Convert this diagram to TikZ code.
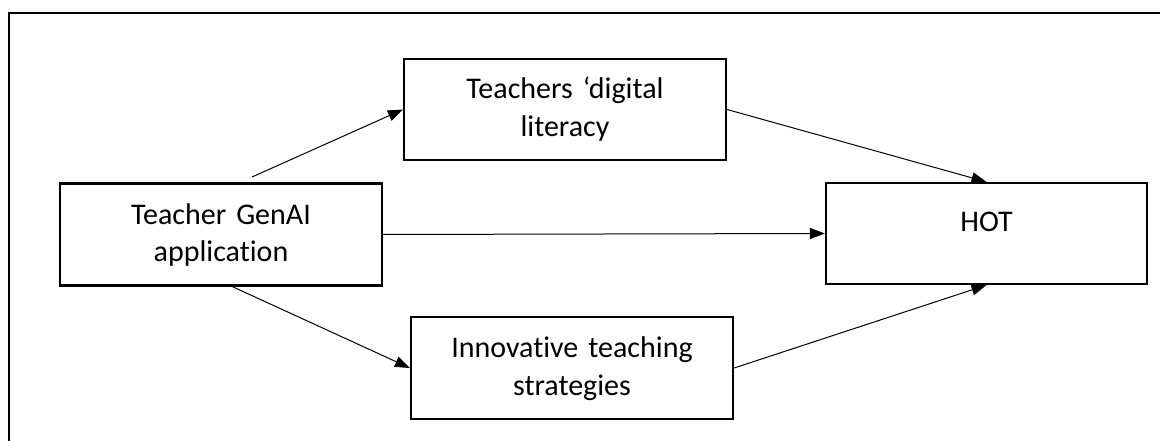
\documentclass[tikz,border=0pt]{standalone}
\usepackage{fontspec}
\setmainfont{Carlito}[RawFeature=-liga]
\usetikzlibrary{arrows.meta}
\begin{document}
\begin{tikzpicture}[x=1pt,y=-1pt,
  box/.style={draw, line width=2.2pt, inner sep=0pt, minimum width=322pt,
    minimum height=102pt, align=center, text width=320pt,
    font=\fontsize{30}{38}\selectfont, text height=19pt, text depth=40pt},
  onebox/.style={box, text depth=22pt},
  conn/.style={line width=1pt, -{Triangle[length=15pt,width=11pt]}}]
\useasboundingbox (0,0) rectangle (1160,441);
\draw[line width=2.2pt] (9,450) -- (9,13) -- (1170,13);
\node[box] (app) at (221,234.5) {Teacher GenAI\\application};
\node[box, minimum height=101pt] (dig) at (565,109.5) {Teachers ‘digital\\literacy};
\node[box] (inn) at (572,368) {Innovative teaching\\strategies};
\node[onebox, minimum width=321pt, minimum height=101pt] (hot) at (986.5,233.5) {HOT};
\coordinate (s1) at (252,177);
\coordinate (s2) at (231,286);
\draw[conn] (s1) -- (dig.west);
\draw[conn] (s2) -- (inn.west);
\draw[conn] (app.east) -- (hot.west);
\draw[conn] (dig.east) -- (hot.north);
\draw[conn] (inn.east) -- (hot.south);
\end{tikzpicture}
\end{document}
